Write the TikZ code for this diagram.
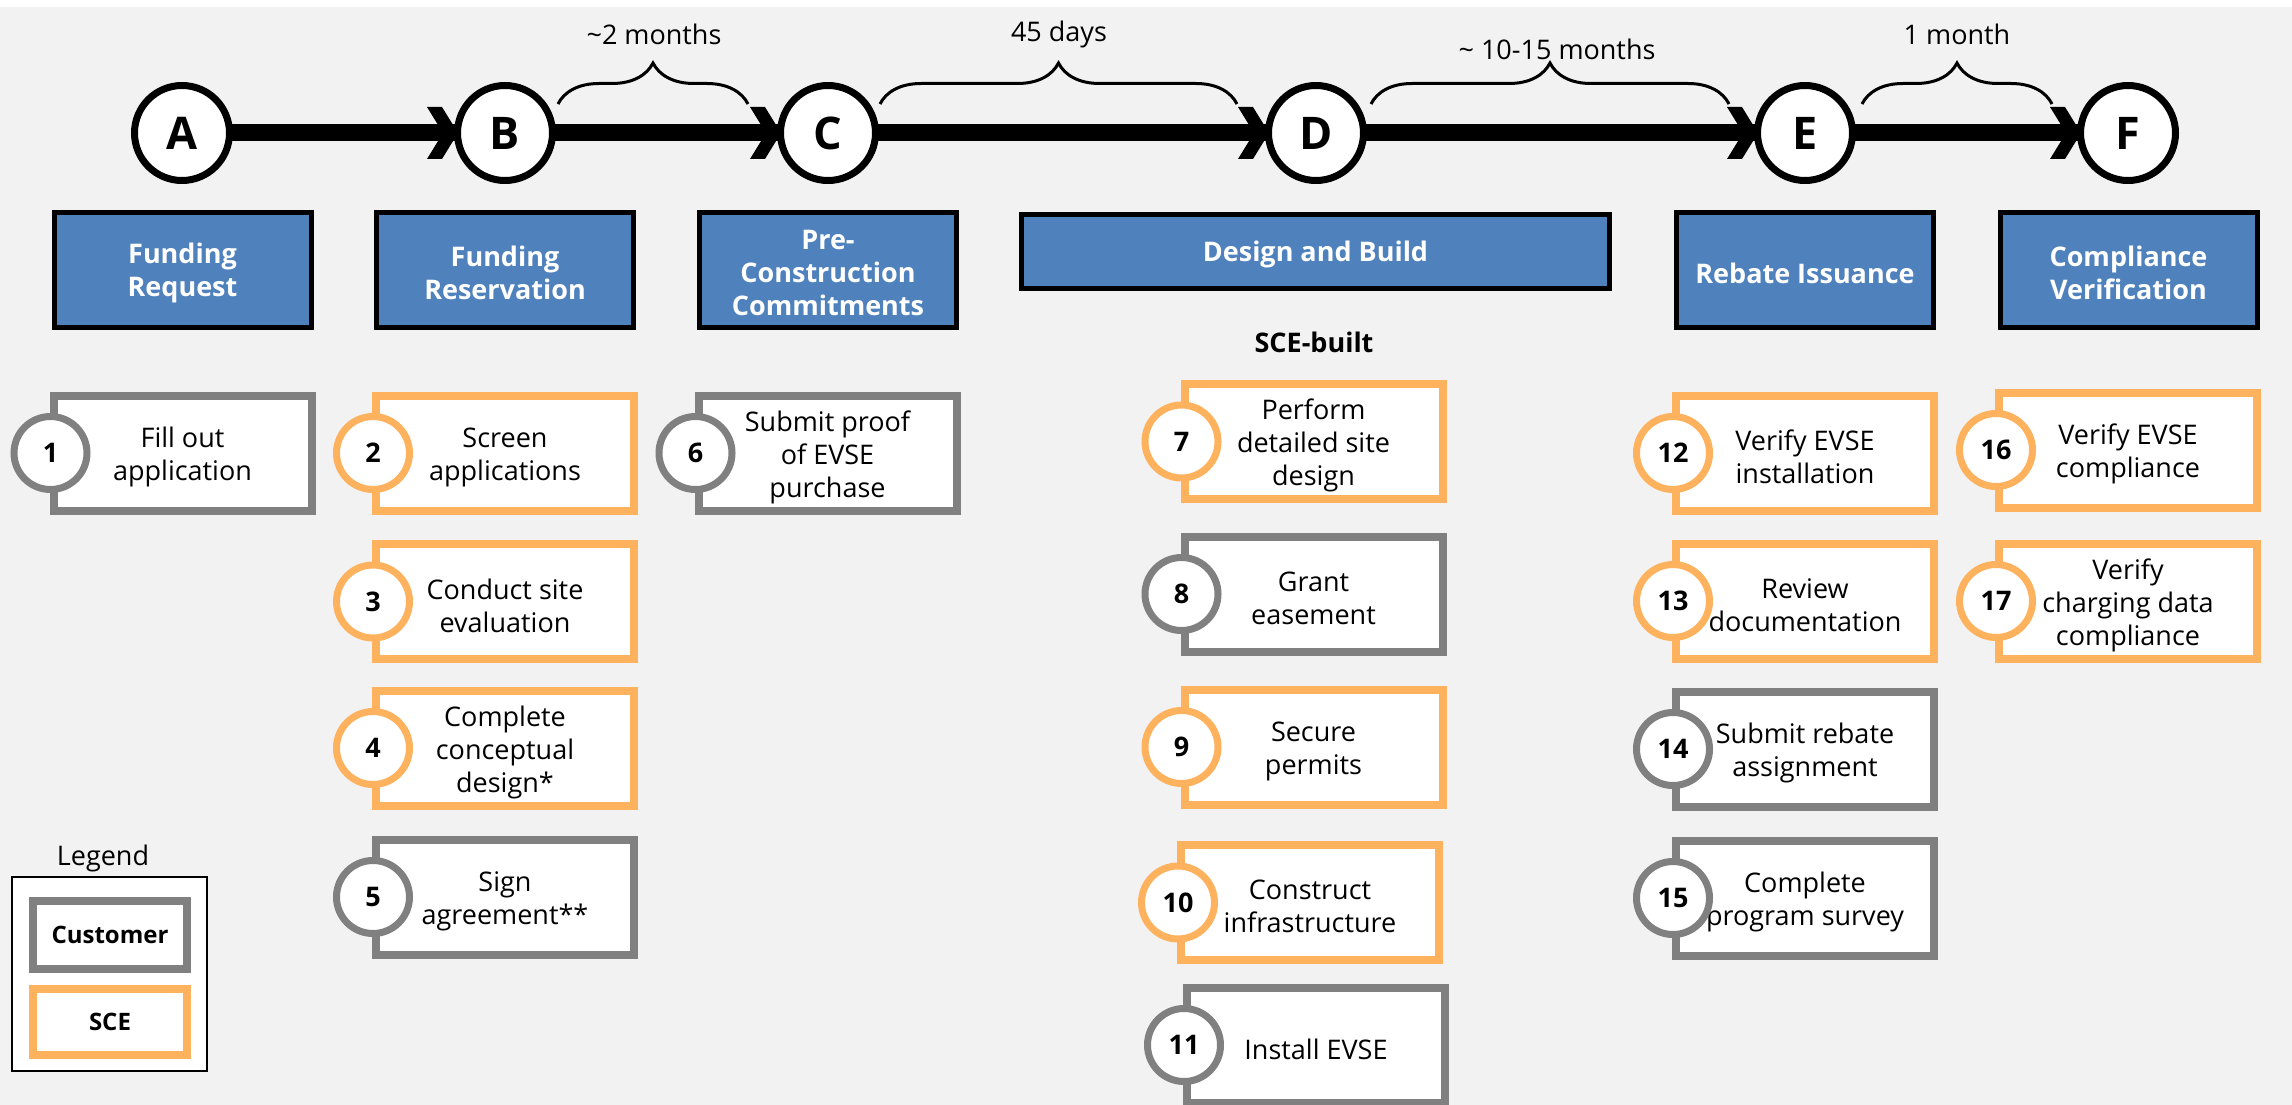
\documentclass[tikz,border=0pt]{standalone}
\usepackage{fontspec}
\setmainfont{Open Sans}
\usetikzlibrary{calc,decorations.pathreplacing}
\definecolor{bgc}{HTML}{F2F2F2}
\definecolor{hblue}{HTML}{4F81BD}
\definecolor{sceor}{HTML}{FFB25E}
\definecolor{custgray}{HTML}{808080}
\pgfdeclarelayer{back}
\pgfdeclarelayer{bg}
\pgfsetlayers{back,bg,main}
\newcommand\myTxt{\fontsize{27}{33}\selectfont}
\newcommand\myBig{\fontsize{45}{50}\selectfont\bfseries}
\newcommand\stepTask[6]{%
  \node[taskbox,draw=#4] (#1) at (#2,#3) {};
  \node[tasktext] (#1t) at ($(#1.center)+(0,4)$) {#6};
  \node[badge,draw=#4] (#1b) at ($(#1.west)+(-3,0)$) {#5};}
\newcommand\chev[1]{%
  \fill ($(#1.center)+(-78,-26)$) -- ($(#1.center)+(-63,-26)$) -- ($(#1.center)+(-47,0)$)
     -- ($(#1.center)+(-63,26)$) -- ($(#1.center)+(-78,26)$) -- ($(#1.center)+(-62,0)$) -- cycle;}
\begin{document}
\begin{tikzpicture}[x=1pt,y=-1pt,
  milestone/.style={circle,draw=black,fill=white,line width=7,minimum size=95,inner sep=0,outer sep=0,font=\myBig},
  header/.style={rectangle,draw=black,fill=hblue,line width=5,minimum width=257,minimum height=115,inner sep=0,outer sep=0},
  headtext/.style={inner sep=0,text=white,align=center,font=\myTxt\bfseries},
  taskbox/.style={rectangle,fill=white,line width=8,minimum width=258,minimum height=115,inner sep=0,outer sep=0},
  tasktext/.style={inner sep=0,align=center,font=\myTxt},
  badge/.style={circle,fill=white,line width=7,minimum size=73,inner sep=0,outer sep=0,font=\myTxt\bfseries},
  conn/.style={line width=17,black},
  brc/.style={decorate,decoration={brace,amplitude=41pt},line width=3,black},
  lbl/.style={inner sep=0,font=\myTxt}
]
\begin{pgfonlayer}{back}
\fill[white] (0,0) rectangle (2292,1105);
\fill[bgc] (0,7) rectangle (2292,1105);
\end{pgfonlayer}
\useasboundingbox (0,0) rectangle (2292,1105);

% milestones
\node[milestone] (A) at (182,133) {A};
\node[milestone] (B) at (505,133) {B};
\node[milestone] (C) at (828,133) {C};
\node[milestone] (D) at (1316,133) {D};
\node[milestone] (E) at (1805,133) {E};
\node[milestone] (F) at (2128,133) {F};

\begin{pgfonlayer}{bg}
\draw[conn] (A) -- (B);
\draw[conn] (B) -- (C);
\draw[conn] (C) -- (D);
\draw[conn] (D) -- (E);
\draw[conn] (E) -- (F);
\chev{B}\chev{C}\chev{D}\chev{E}\chev{F}
\end{pgfonlayer}

% braces
\draw[brc] ($(B.center)+(53,-29)$) -- ($(C.center)+(-80,-29)$);
\draw[brc] ($(C.center)+(52,-29)$) -- ($(D.center)+(-79,-29)$);
\draw[brc] ($(D.center)+(55,-29)$) -- ($(E.center)+(-76,-29)$);
\draw[brc] ($(E.center)+(57,-29)$) -- ($(F.center)+(-76,-29)$);
\node[lbl] (d1) at (654,34) {\textasciitilde2 months};
\node[lbl] (d2) at (1059,34) {45 days};
\node[lbl] (d3) at (1557,49) {\textasciitilde{} 10-15 months};
\node[lbl] (d4) at (1957,34) {1 month};

% headers
\node[header] (h1) at (182.5,270) {};
\node[headtext] (h1t) at ($(h1.center)+(0,3)$) {Funding\\Request};
\node[header] (h2) at (505,270) {};
\node[headtext] (h2t) at ($(h2.center)+(0,3)$) {Funding\\Reservation};
\node[header] (h3) at (828,270) {};
\node[headtext] (h3t) at ($(h3.center)+(0,3)$) {Pre-\\Construction\\Commitments};
\node[header,minimum width=588,minimum height=74] (h4) at (1315.5,251.5) {};
\node[headtext] (h4t) at ($(h4.center)+(0,3)$) {Design and Build};
\node[header] (h5) at (1805,270) {};
\node[headtext] (h5t) at ($(h5.center)+(0,3)$) {Rebate Issuance};
\node[header] (h6) at (2128.5,270) {};
\node[headtext] (h6t) at ($(h6.center)+(0,3)$) {Compliance\\Verification};

\node[lbl,font=\myTxt\bfseries] (sceb) at (1314,342) {SCE-built};

% tasks
\stepTask{t1}{182.5}{453}{custgray}{1}{Fill out\\application}
\stepTask{t2}{505}{453}{sceor}{2}{Screen\\applications}
\stepTask{t3}{505}{601.5}{sceor}{3}{Conduct site\\evaluation}
\stepTask{t4}{505}{748}{sceor}{4}{Complete\\conceptual\\design*}
\stepTask{t5}{505}{897}{custgray}{5}{Sign\\agreement**}
\stepTask{t6}{827.5}{453}{custgray}{6}{Submit proof\\of EVSE\\purchase}
\stepTask{t7}{1313.5}{441.5}{sceor}{7}{Perform\\detailed site\\design}
\stepTask{t8}{1313.5}{594}{custgray}{8}{Grant\\easement}
\stepTask{t9}{1313.5}{747}{sceor}{9}{Secure\\permits}
\stepTask{t10}{1310}{902.5}{sceor}{10}{Construct\\infrastructure}
\stepTask{t11}{1316}{1045}{custgray}{11}{Install EVSE}
\stepTask{t12}{1805}{453}{sceor}{12}{Verify EVSE\\installation}
\stepTask{t13}{1805}{601}{sceor}{13}{Review\\documentation}
\stepTask{t14}{1805}{749}{custgray}{14}{Submit rebate\\assignment}
\stepTask{t15}{1805}{898}{custgray}{15}{Complete\\program survey}
\stepTask{t16}{2128}{450}{sceor}{16}{Verify EVSE\\compliance}
\stepTask{t17}{2128}{601}{sceor}{17}{Verify\\charging data\\compliance}

% legend
\node[lbl] (legt) at (103,858) {Legend};
\node[rectangle,draw=black,fill=white,line width=2,minimum width=195,minimum height=194,inner sep=0] (leg) at (109.5,974) {};
\node[rectangle,draw=custgray,fill=white,line width=8,minimum width=154,minimum height=68,inner sep=0,font=\fontsize{24}{28}\selectfont\bfseries] (lc) at (110,935) {Customer};
\node[rectangle,draw=sceor,fill=white,line width=8,minimum width=154,minimum height=66,inner sep=0,font=\fontsize{24}{28}\selectfont\bfseries] (ls) at (110,1022) {SCE};
\end{tikzpicture}
\end{document}
